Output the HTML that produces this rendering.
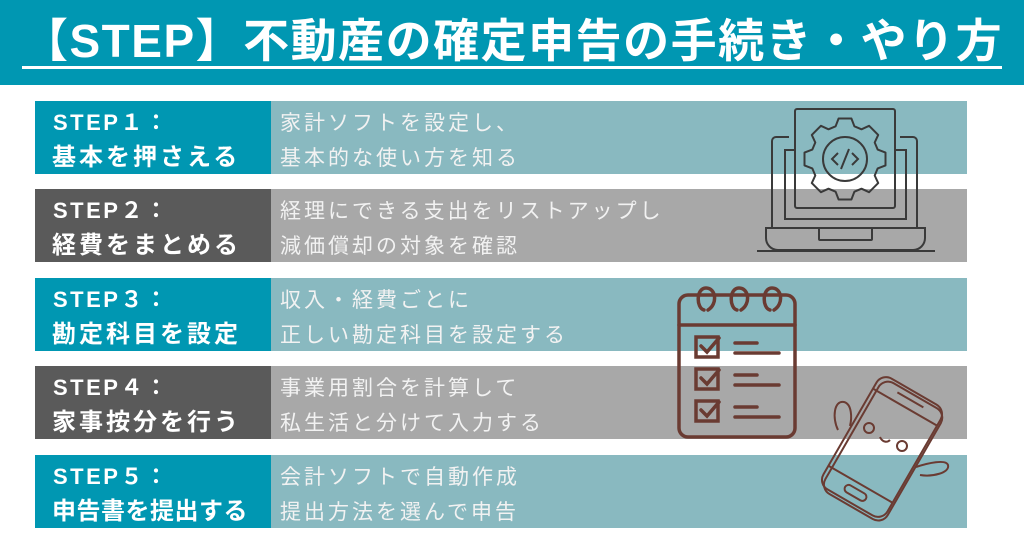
<!DOCTYPE html>
<html><head><meta charset="utf-8"><style>
*{margin:0;padding:0;box-sizing:border-box}
body{width:1024px;height:538px;background:#fff;position:relative;overflow:hidden;font-family:"Liberation Sans","Noto Sans CJK JP",sans-serif}
.hdr{position:absolute;left:0;top:0;width:1024px;height:85px;background:#0097b2}
.title{position:absolute;left:22px;top:15px;width:990px;color:#fff;font-weight:bold;font-size:46px;line-height:52px;white-space:nowrap;letter-spacing:1.5px}
.ul{position:absolute;left:22px;top:66px;width:980px;height:3px;background:#fff}
.row{position:absolute;left:35px;width:932px;height:73px}
.lab{position:absolute;left:0;top:0;width:236px;height:73px;color:#fff;font-weight:bold}
.l1{position:absolute;left:18px;top:7px;font-size:22px;line-height:30px;letter-spacing:2.5px}
.l2{position:absolute;left:17px;top:42px;font-size:24px;line-height:30px;letter-spacing:3px;white-space:nowrap}
.txt{position:absolute;left:245px;color:#f2f2f2;font-size:21px;line-height:35px;letter-spacing:3px;top:5px;white-space:nowrap}
.t .lab{background:#0097b2}.t{background:#89b9c0}
.g .lab{background:#5a5a5a}.g{background:#a8a8a8}
svg{position:absolute;left:0;top:0}
</style></head><body>
<div class="hdr"></div>
<div class="title">【STEP】不動産の確定申告の手続き・やり方</div>
<div class="ul"></div>

<div class="row t" style="top:101px"><div class="lab"><div class="l1">STEP１：</div><div class="l2">基本を押さえる</div></div><div class="txt">家計ソフトを設定し、<br>基本的な使い方を知る</div></div>
<div class="row g" style="top:189px"><div class="lab"><div class="l1">STEP２：</div><div class="l2">経費をまとめる</div></div><div class="txt">経理にできる支出をリストアップし<br>減価償却の対象を確認</div></div>
<div class="row t" style="top:278px"><div class="lab"><div class="l1">STEP３：</div><div class="l2">勘定科目を設定</div></div><div class="txt">収入・経費ごとに<br>正しい勘定科目を設定する</div></div>
<div class="row g" style="top:366px"><div class="lab"><div class="l1">STEP４：</div><div class="l2">家事按分を行う</div></div><div class="txt">事業用割合を計算して<br>私生活と分けて入力する</div></div>
<div class="row t" style="top:455px"><div class="lab"><div class="l1">STEP５：</div><div class="l2" style="letter-spacing:0.5px">申告書を提出する</div></div><div class="txt">会計ソフトで自動作成<br>提出方法を選んで申告</div></div>

<svg width="1024" height="538" viewBox="0 0 1024 538">
<g fill="none" stroke="#3a3a3a" stroke-width="2">
<path d="M789 137 H776 a4 4 0 0 0 -4 4 V228 M900 137 H913 a4 4 0 0 1 4 4 V228"/>
<path d="M795 150 H785 V219 H906 V150 H895"/>
<rect x="795" y="109" width="100" height="99" rx="2"/>
<path d="M766 228 H925 V238 a12 12 0 0 1 -12 12 H778 a12 12 0 0 1 -12 -12 Z"/>
<rect x="819" y="228" width="53" height="12" rx="1"/>
<path d="M757 251 H935"/>
<circle cx="845" cy="159" r="22"/>
<polygon points="877.7,149.6 885.5,152.6 885.5,165.4 877.7,168.4 874.7,175.5 878.2,183.1 869.1,192.2 861.5,188.7 854.4,191.7 851.4,199.5 838.6,199.5 835.6,191.7 828.5,188.7 820.9,192.2 811.8,183.1 815.3,175.5 812.3,168.4 804.5,165.4 804.5,152.6 812.3,149.6 815.3,142.5 811.8,134.9 820.9,125.8 828.5,129.3 835.6,126.3 838.6,118.5 851.4,118.5 854.4,126.3 861.5,129.3 869.1,125.8 878.2,134.9 874.7,142.5" stroke-linejoin="round"/>
<path d="M838 153 l-6 6 l6 6 M852 153 l6 6 l-6 6 M849 149 l-8 20"/>
</g>
<g fill="none" stroke="#6a3b32" stroke-width="3.5" stroke-linecap="round">
<rect x="679" y="295" width="116" height="142" rx="9"/>
<path d="M679 325 H795"/>
<path d="M704 310 c-8 -2 -8 -22 2 -22 c10 0 12 16 2 22 M737 310 c-8 -2 -8 -22 2 -22 c10 0 12 16 2 22 M770 310 c-8 -2 -8 -22 2 -22 c10 0 12 16 2 22"/>
<rect x="696" y="337" width="22" height="20"/><rect x="696" y="369" width="22" height="20"/><rect x="696" y="401" width="22" height="20"/>
<path d="M701 346 l6 6 l12 -14 M701 378 l6 6 l12 -14 M701 410 l6 6 l12 -14"/>
<path d="M735 343 H757 M735 353 H779 M735 375 H757 M735 385 H779 M735 407 H757 M735 417 H779"/>
</g>
<g fill="none" stroke="#6a3b32" stroke-width="2">
<g transform="rotate(30 882 447)">
<rect x="845" y="383" width="74" height="128" rx="11"/>
<rect x="849" y="386" width="72" height="128" rx="11"/>
<path d="M845 401 H919 M845 490 H919"/>
<rect x="870" y="496" width="24" height="8" rx="4"/>
<path d="M868 392 H898"/>
</g>
<path d="M838 430 c-6 -12 -4 -30 6 -28 c8 2 8 16 6 24"/>
<path d="M916 467 c12 -4 30 -8 32 -2 c2 8 -16 12 -28 10"/>
<circle cx="869" cy="428" r="5"/><circle cx="902" cy="446" r="5"/>
<path d="M880 437 c2 5 7 6 10 3"/>
</g>
</svg>
</body></html>
